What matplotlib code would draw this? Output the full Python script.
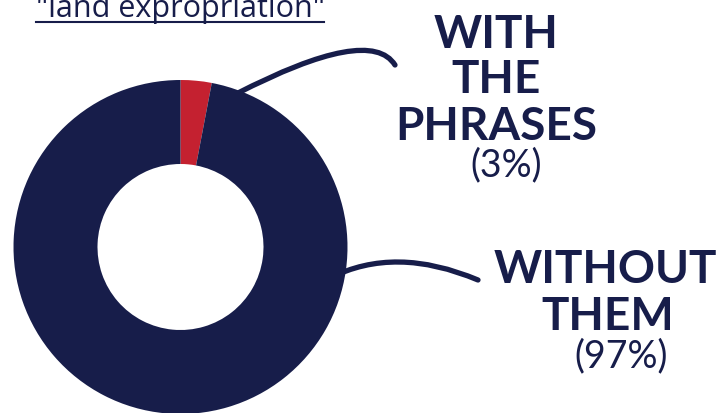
import matplotlib
matplotlib.use('Agg')
import matplotlib.pyplot as plt
from matplotlib.path import Path
from matplotlib.patches import PathPatch
from matplotlib.lines import Line2D

# share of items that use the phrases
labels = ['WITH\nTHE\nPHRASES', 'WITHOUT\nTHEM']
shares = [3, 97]
pct_labels = ['(3%)', '(97%)']
title = '"land expropriation"'

navy = '#171d4a'
red = '#c42130'

W, H = 720, 413
fig = plt.figure(figsize=(W / 100, H / 100), dpi=100)
ax = fig.add_axes([0, 0, 1, 1])

# donut
ax.pie(shares, colors=[red, navy], startangle=90, counterclock=False,
       center=(180.5, H - 247), radius=167,
       wedgeprops=dict(width=84, linewidth=0), frame=True)
ax.set_xlim(0, W)
ax.set_ylim(0, H)
ax.set_aspect('equal')
ax.axis('off')


def curve(p0, p1, p2):
    pts = [(x, H - y) for x, y in (p0, p1, p2)]
    path = Path(pts, [Path.MOVETO, Path.CURVE3, Path.CURVE3])
    ax.add_patch(PathPatch(path, fill=False, edgecolor=navy, lw=3.8,
                           capstyle='round', zorder=0))


# leader lines from the ring to the labels
curve((236, 94), (370, 25), (395, 65))
curve((330, 278), (395, 245), (478, 280))

bold = dict(family='Lato', fontweight='bold', fontsize=33, color=navy,
            ha='center', va='baseline')
reg = dict(family='Lato', fontweight='normal', fontsize=27, color=navy,
           ha='center', va='baseline')

for txt, y in zip(labels[0].split('\n'), [48, 93, 140]):
    ax.text(496, H - y, txt, **bold)
ax.text(506, H - 176, pct_labels[0], **reg)

for txt, y, x in zip(labels[1].split('\n'), [283, 330], [605, 608]):
    ax.text(x, H - y, txt, **bold)
ax.text(621, H - 367, pct_labels[1], **reg)

# underlined heading, partly off the top edge
t = ax.text(180, H - 17, title, family='Open Sans', fontsize=22, color=navy,
            ha='center', va='baseline')
fig.canvas.draw()
bb = t.get_window_extent()
fig.add_artist(Line2D([bb.x0, bb.x1], [H - 21.5, H - 21.5], transform=None,
                      color=navy, lw=1.5))

fig.savefig('out.png', dpi=100)
